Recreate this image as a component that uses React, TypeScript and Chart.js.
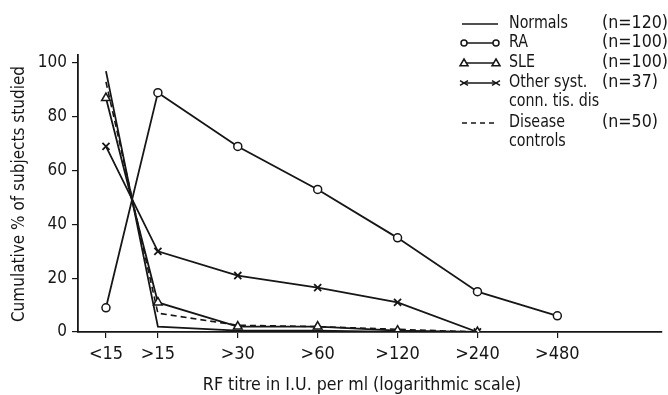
import React, { useEffect, useRef } from 'react';
import { Chart, registerables } from 'chart.js';

Chart.register(...registerables);

// ---- data ----
const categories = ['<15', '>15', '>30', '>60', '>120', '>240', '>480'];
// positions of the categories along the (logarithmic) titre axis
const categoryPositions = [0.35, 1, 2, 3, 4, 5, 6];
const normals = [97, 2, 0.5, 0.5, 0, 0, null];
const ra = [9, 89, 69, 53, 35, 15, 6];
const sle = [87, 11, 2, 2, 0.5, 0, null];
const otherCtd = [69, 30, 21, 16.5, 11, 0, null];
const diseaseControls = [93, 7, 2.5, 2, 1, 0, null];
const yTicks = [0, 20, 40, 60, 80, 100];

const legendNames = ['Normals', 'RA', 'SLE', 'Other syst.', 'Disease'];
const legendSecondLines = ['', '', '', 'conn. tis. dis', 'controls'];
const legendCounts = ['(n=120)', '(n=100)', '(n=100)', '(n=37)', '(n=50)'];

const yTitle = 'Cumulative % of subjects studied';
const xTitle = 'RF titre in I.U. per ml (logarithmic scale)';

const FONT = '"Liberation Sans Narrow", "DejaVu Sans Condensed", "Arial Narrow", sans-serif';
const INK = '#161616';

function toPoints(values: (number | null)[]) {
  const pts: { x: number; y: number }[] = [];
  values.forEach((v, i) => {
    if (v !== null && v !== undefined) pts.push({ x: categoryPositions[i], y: v });
  });
  return pts;
}

function drawMarker(ctx: CanvasRenderingContext2D, kind: string, x: number, y: number, r: number) {
  ctx.beginPath();
  if (kind === 'circle') {
    ctx.arc(x, y, r, 0, Math.PI * 2);
    ctx.fillStyle = '#fff';
    ctx.fill();
    ctx.stroke();
  } else if (kind === 'triangle') {
    ctx.moveTo(x, y - r);
    ctx.lineTo(x + r, y + r * 0.7);
    ctx.lineTo(x - r, y + r * 0.7);
    ctx.closePath();
    ctx.fillStyle = '#fff';
    ctx.fill();
    ctx.stroke();
  } else if (kind === 'cross') {
    ctx.moveTo(x - r, y - r * 0.6);
    ctx.lineTo(x + r, y + r * 0.6);
    ctx.moveTo(x - r, y + r * 0.6);
    ctx.lineTo(x + r, y - r * 0.6);
    ctx.stroke();
  }
}

function narrowText(ctx: CanvasRenderingContext2D, text: string, x: number, y: number, sx: number) {
  ctx.save();
  ctx.translate(x, y);
  ctx.scale(sx, 1);
  ctx.fillText(text, 0, 0);
  ctx.restore();
}

const annotationPlugin = {
  id: 'annotations',
  afterDraw(chart: any) {
    const ctx: CanvasRenderingContext2D = chart.ctx;
    ctx.save();
    ctx.fillStyle = INK;
    ctx.strokeStyle = INK;

    // axis titles
    ctx.font = `18px ${FONT}`;
    ctx.textAlign = 'center';
    ctx.textBaseline = 'middle';
    narrowText(ctx, xTitle, 362, 385, 0.98);
    ctx.save();
    ctx.translate(20, 194);
    ctx.rotate(-Math.PI / 2);
    ctx.font = `17px ${FONT}`;
    ctx.fillText(yTitle, 0, 0);
    ctx.restore();

    // legend
    const rows = [23, 42, 62, 82, 122];
    const kinds = ['none', 'circle', 'triangle', 'cross', 'dash'];
    ctx.font = `18px ${FONT}`;
    ctx.textAlign = 'left';
    for (let i = 0; i < legendNames.length; i++) {
      const y = rows[i];
      ctx.fillStyle = INK;
      narrowText(ctx, legendNames[i], 509, y, 0.88);
      narrowText(ctx, legendCounts[i], 602, y, 0.98);
      if (legendSecondLines[i]) narrowText(ctx, legendSecondLines[i], 509, y + 19, 0.88);
      // sample line
      ctx.lineWidth = 1.5;
      ctx.beginPath();
      if (kinds[i] === 'dash') ctx.setLineDash([5, 4]);
      ctx.moveTo(462, y + 1);
      ctx.lineTo(498, y + 1);
      ctx.stroke();
      ctx.setLineDash([]);
      if (kinds[i] === 'circle' || kinds[i] === 'triangle' || kinds[i] === 'cross') {
        const r = kinds[i] === 'circle' ? 3 : 4;
        drawMarker(ctx, kinds[i], 464, y + 1, r);
        drawMarker(ctx, kinds[i], 496, y + 1, r);
      }
    }
    ctx.restore();
  },
};

export default function App() {
  const canvasRef = useRef<HTMLCanvasElement | null>(null);

  useEffect(() => {
    if (!canvasRef.current) return;
    const common = {
      borderColor: INK,
      borderWidth: 1.8,
      pointBorderColor: INK,
      pointBackgroundColor: '#ffffff',
      pointBorderWidth: 1.5,
      tension: 0,
      fill: false,
    };
    const chart = new Chart(canvasRef.current, {
      type: 'line',
      data: {
        datasets: [
          { ...common, label: 'Normals', data: toPoints(normals), pointRadius: 0 },
          { ...common, label: 'RA', data: toPoints(ra), pointStyle: 'circle', pointRadius: 4 },
          { ...common, label: 'SLE', data: toPoints(sle), pointStyle: 'triangle', pointRadius: 5 },
          { ...common, label: 'Other syst. conn. tis. dis', data: toPoints(otherCtd), pointStyle: 'crossRot', pointRadius: 5, pointBorderWidth: 1.8 },
          { ...common, label: 'Disease controls', data: toPoints(diseaseControls), pointRadius: 0, borderDash: [6, 4], borderWidth: 1.6 },
        ],
      },
      options: {
        animation: false,
        responsive: false,
        maintainAspectRatio: false,
        layout: { padding: { top: 55, right: 1, left: 0, bottom: 0 } },
        plugins: {
          legend: { display: false },
          tooltip: { enabled: false },
          title: { display: false },
        },
        scales: {
          x: {
            type: 'linear',
            min: 0,
            max: 7.3,
            afterBuildTicks: (scale: any) => {
              scale.ticks = categoryPositions.map((v) => ({ value: v }));
            },
            afterFit: (scale: any) => {
              scale.height = 63;
            },
            ticks: {
              autoSkip: false,
              maxRotation: 0,
              padding: 6,
              color: INK,
              font: { family: FONT, size: 18 },
              callback: (_v: any, index: number) => categories[index],
            },
            grid: { display: true, drawOnChartArea: false, drawTicks: true, tickLength: 6, color: INK, lineWidth: 1.2 },
            border: { display: true, color: INK, width: 1.8 },
          },
          y: {
            type: 'linear',
            min: 0,
            max: 103,
            afterBuildTicks: (scale: any) => {
              scale.ticks = yTicks.map((v) => ({ value: v }));
            },
            afterFit: (scale: any) => {
              scale.width = 78;
            },
            ticks: {
              padding: 5,
              color: INK,
              font: { family: FONT, size: 17 },
              callback: (v: any) => String(v),
            },
            grid: { display: true, drawOnChartArea: false, drawTicks: true, tickLength: 6, color: INK, lineWidth: 1.2 },
            border: { display: true, color: INK, width: 1.8 },
          },
        },
      } as any,
      plugins: [annotationPlugin],
    });
    return () => chart.destroy();
  }, []);

  return (
    <div style={{ position: 'fixed', left: 0, top: 0, width: 668, height: 395, background: '#fff' }}>
      <canvas ref={canvasRef} width={668} height={395} style={{ display: 'block' }} />
    </div>
  );
}
